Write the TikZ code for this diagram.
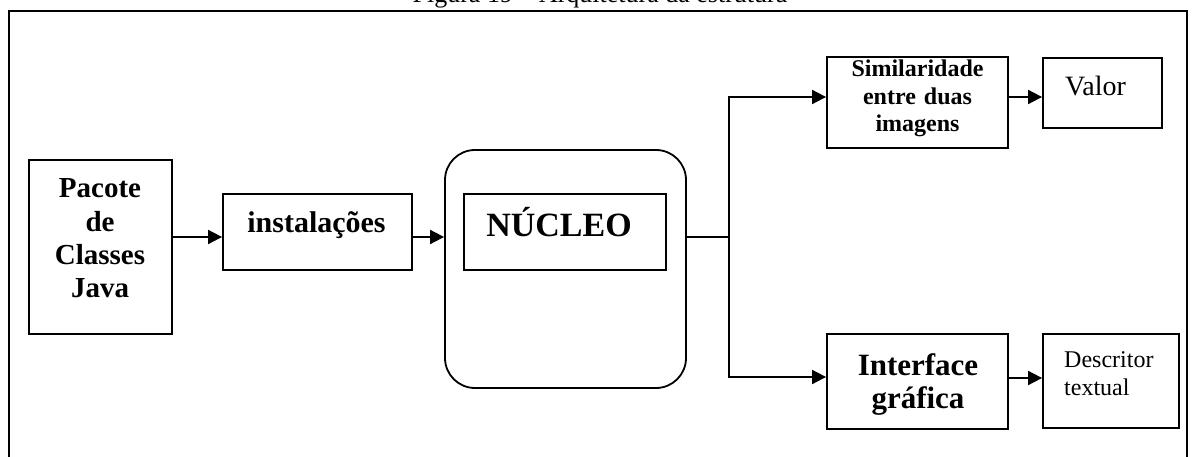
\documentclass[tikz,border=0pt]{standalone}
\usepackage{fontspec}
\setmainfont{Liberation Serif}
\usetikzlibrary{arrows.meta}
\begin{document}
\begin{tikzpicture}[x=1pt,y=-1pt,
  box/.style={draw,line width=1.8pt,inner sep=0pt},
  link/.style={line width=1.8pt},
  arr/.style={link,-{Triangle[length=14pt,width=14pt]}},
  txt/.style={inner sep=0pt,anchor=base},
  frame/.style={line width=2.8pt}]
\useasboundingbox (0,0) rectangle (1192,457);
\clip (0,0) rectangle (1192,457);

% caption (only its lower edge falls inside the page)
\node[txt,font=\fontsize{26}{30}\selectfont] (cap) at (600,3) {Figura 19 – Arquitetura da estrutura};

% outer frame
\draw[frame] (9,470) -- (9,11) -- (1187,11) -- (1187,470);

% boxes
\node[box,minimum width=143pt,minimum height=174pt] (pac) at (100.5,247) {};
\node[box,minimum width=189pt,minimum height=76pt] (inst) at (317.5,232) {};
\node[box,rounded corners=30pt,minimum width=241pt,minimum height=238pt] (nucO) at (565.5,269) {};
\node[box,minimum width=202pt,minimum height=76pt] (nucI) at (565,232) {};
\node[box,minimum width=181pt,minimum height=91pt] (sim) at (917.5,102.5) {};
\node[box,minimum width=119pt,minimum height=70pt] (val) at (1102.5,93) {};
\node[box,minimum width=181pt,minimum height=95pt] (intf) at (917.5,381.5) {};
\node[box,minimum width=136pt,minimum height=94pt] (desc) at (1111,381) {};

% texts
\node[txt,text width=140pt,align=center,font=\fontsize{29}{33.2}\selectfont\bfseries] (tpac) at (100,198) {Pacote\\de\\Classes\\Java};
\node[txt,font=\fontsize{30}{34}\selectfont\bfseries] (tinst) at (316.5,233) {instalações};
\node[txt,font=\fontsize{34}{38}\selectfont\bfseries] (tnuc) at (559,237) {NÚCLEO};
\node[txt,text width=180pt,align=center,font=\fontsize{24}{27.5}\selectfont\bfseries] (tsim) at (917.5,77) {Similaridade\\entre duas\\imagens};
\node[txt,anchor=base west,font=\fontsize{28}{32}\selectfont] (tval) at (1065,96) {Valor};
\node[txt,text width=180pt,align=center,font=\fontsize{31}{33}\selectfont\bfseries] (tintf) at (918,375) {Interface\\gráfica};
\node[txt,anchor=base west,text width=120pt,align=left,font=\fontsize{24}{28}\selectfont] (tdesc) at (1064,367) {Descritor\\textual};

% connectors
\coordinate (lvl) at (0,237);
\coordinate (split) at (729,237);
\draw[arr] (pac.east |- lvl) -- (inst.west |- lvl);
\draw[arr] (inst.east |- lvl) -- (nucO.west |- lvl);
\draw[link] (nucO.east |- lvl) -- (split);
\draw[arr] (split) |- ([yshift=5.5pt]sim.west);
\draw[arr] (split) |- ([yshift=4.5pt]intf.west);
\coordinate (a1) at ([yshift=5.5pt]sim.east);
\coordinate (a2) at ([yshift=3.5pt]intf.east);
\draw[arr] (a1) -- (a1 -| val.west);
\draw[arr] (a2) -- (a2 -| desc.west);
\end{tikzpicture}
\end{document}
